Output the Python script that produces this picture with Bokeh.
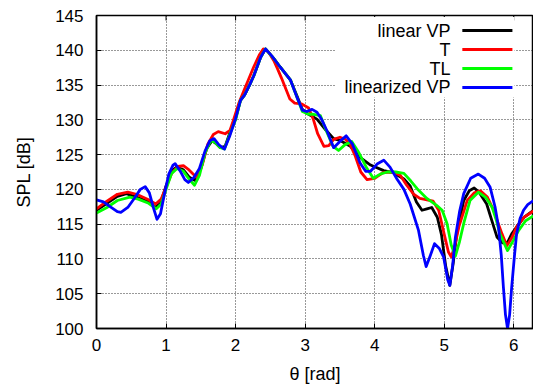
from bokeh.plotting import figure
from bokeh.models import Range1d, FixedTicker, Label
from bokeh.embed import file_html
from bokeh.resources import INLINE

# ---- data ----
theta_linear_vp = [0, 0.15, 0.3, 0.43, 0.6, 0.75, 0.84, 0.92, 1.0, 1.08, 1.15, 1.25, 1.33, 1.41, 1.5,
                   1.58, 1.66, 1.72, 1.78, 1.85, 1.93, 2.0, 2.07, 2.13, 2.2, 2.26, 2.36, 2.43, 2.55,
                   2.64, 2.79, 2.88, 2.96, 3.03, 3.17, 3.3, 3.41, 3.51, 3.65, 3.79, 3.94, 4.13, 4.27,
                   4.42, 4.51, 4.6, 4.68, 4.75, 4.82, 4.9, 4.96, 5.02, 5.08, 5.13, 5.18, 5.28, 5.36,
                   5.43, 5.5, 5.61, 5.7, 5.76, 5.84, 5.91, 5.97, 6.04, 6.15, 6.2832]
spl_linear_vp = [117.0, 118.0, 119.0, 119.4, 118.8, 118.2, 117.4, 118.0, 120.5, 122.6, 123.2, 122.8, 121.8,
                 121.3, 123.0, 125.8, 127.0, 126.6, 126.0, 126.2, 128.5, 130.2, 132.8, 133.6, 135.0,
                 136.3, 139.0, 140.2, 138.8, 137.6, 135.7, 133.5, 131.5, 130.9, 130.1, 128.5, 127.3,
                 127.0, 126.2, 124.6, 123.5, 122.7, 122.4, 121.5, 120.5, 118.2, 117.0, 117.2, 117.4,
                 116.0, 113.5, 109.0, 106.2, 109.5, 113.6, 118.4, 119.8, 120.2, 119.6, 117.9, 115.0,
                 113.1, 112.3, 112.4, 113.6, 114.6, 116.0, 117.0]

theta_t = [0, 0.15, 0.3, 0.45, 0.6, 0.75, 0.85, 0.93, 1.0, 1.08, 1.17, 1.25, 1.33, 1.44, 1.52, 1.6,
           1.68, 1.75, 1.85, 1.92, 1.97, 2.05, 2.12, 2.19, 2.26, 2.34, 2.40, 2.47, 2.55, 2.60, 2.66,
           2.72, 2.78, 2.85, 2.95, 3.05, 3.12, 3.18, 3.27, 3.34, 3.41, 3.5, 3.58, 3.65, 3.72, 3.8,
           3.89, 4.0, 4.12, 4.27, 4.37, 4.46, 4.56, 4.65, 4.75, 4.84, 4.92, 5.01, 5.06, 5.10, 5.15,
           5.21, 5.33, 5.43, 5.52, 5.62, 5.71, 5.78, 5.83, 5.9, 5.97, 6.04, 6.15, 6.2832]
spl_t = [117.2, 118.3, 119.3, 119.6, 119.2, 118.5, 117.9, 118.6, 120.3, 122.3, 123.3, 123.4, 122.8,
         121.7, 123.5, 126.5, 127.9, 128.3, 128.0, 128.5, 130.0, 132.5, 134.2, 135.9, 137.6, 139.3,
         140.2, 139.8, 138.5, 137.4, 136.0, 134.5, 133.0, 132.4, 132.3, 131.7, 130.0, 128.0, 126.2,
         126.3, 127.2, 127.5, 127.2, 126.4, 124.8, 122.5, 121.4, 121.6, 122.4, 122.5, 122.0, 120.6,
         119.3, 118.7, 118.5, 118.3, 117.0, 113.1, 111.0, 110.3, 111.8, 114.6, 118.4, 119.5, 119.8,
         118.9, 117.0, 115.0, 113.6, 111.9, 113.0, 114.6, 116.0, 116.9]

theta_tl = [0, 0.15, 0.3, 0.48, 0.6, 0.75, 0.86, 0.93, 1.0, 1.08, 1.16, 1.25, 1.33, 1.41, 1.48, 1.56,
            1.64, 1.7, 1.78, 1.84, 1.92, 2.0, 2.07, 2.13, 2.2, 2.26, 2.36, 2.43, 2.55, 2.64, 2.79,
            2.88, 2.96, 3.05, 3.12, 3.22, 3.3, 3.4, 3.48, 3.57, 3.67, 3.76, 3.89, 3.98, 4.08, 4.18,
            4.3, 4.42, 4.52, 4.61, 4.75, 4.89, 4.97, 5.04, 5.1, 5.16, 5.22, 5.28, 5.37, 5.49, 5.6,
            5.69, 5.75, 5.8, 5.91, 5.99, 6.07, 6.17, 6.2832]
spl_tl = [116.6, 117.4, 118.4, 118.9, 118.6, 118.0, 117.2, 117.9, 120.0, 122.3, 123.0, 122.6, 121.5,
          120.6, 122.0, 125.2, 127.0, 126.8, 126.0, 125.8, 128.0, 130.0, 132.8, 133.6, 135.0, 136.3,
          139.0, 140.2, 138.8, 137.6, 135.7, 133.3, 131.2, 130.8, 130.8, 130.6, 128.5, 126.2, 125.6,
          126.4, 126.9, 125.5, 123.0, 121.6, 122.2, 122.5, 122.5, 122.3, 121.2, 120.1, 118.7, 117.7,
          117.0, 115.1, 112.0, 110.4, 112.5, 115.1, 118.4, 119.6, 118.8, 117.4, 115.5, 113.6, 111.2,
          112.6, 114.1, 115.5, 116.2]

theta_linearized_vp = [0, 0.1, 0.2, 0.3, 0.35, 0.45, 0.55, 0.63, 0.7, 0.76, 0.82, 0.87, 0.92, 0.98,
                       1.04, 1.1, 1.13, 1.2, 1.27, 1.32, 1.4, 1.48, 1.56, 1.63, 1.69, 1.76, 1.84, 1.92,
                       2.0, 2.07, 2.13, 2.2, 2.26, 2.36, 2.43, 2.52, 2.64, 2.79, 2.88, 2.96, 3.02, 3.1,
                       3.17, 3.24, 3.31, 3.41, 3.5, 3.59, 3.68, 3.79, 3.87, 3.94, 4.04, 4.13, 4.22,
                       4.32, 4.42, 4.51, 4.63, 4.7, 4.74, 4.8, 4.86, 4.93, 4.99, 5.05, 5.08, 5.12,
                       5.16, 5.22, 5.28, 5.38, 5.49, 5.58, 5.66, 5.73, 5.78, 5.82, 5.85, 5.88, 5.91,
                       5.94, 5.97, 6.01, 6.04, 6.09, 6.14, 6.2, 6.2832]
spl_linearized_vp = [118.5, 118.2, 117.5, 116.8, 116.7, 117.4, 118.8, 120.0, 120.4, 119.5, 117.3,
                     115.7, 116.5, 119.5, 122.2, 123.5, 123.7, 122.7, 121.4, 121.0, 121.7, 123.0,
                     125.5, 127.0, 127.3, 126.4, 125.8, 127.8, 130.2, 132.8, 133.6, 135.0, 136.3,
                     139.0, 140.2, 139.2, 137.6, 135.7, 133.3, 131.4, 131.2, 131.5, 131.1, 130.0,
                     128.5, 126.0, 126.9, 127.7, 126.5, 123.8, 122.6, 122.6, 123.7, 124.2, 123.2,
                     121.5, 120.0, 117.9, 114.1, 110.5, 108.9, 110.5, 112.2, 111.5, 110.3, 107.0,
                     106.2, 109.0, 113.1, 116.8, 119.4, 121.6, 122.2, 121.6, 120.3, 117.5, 114.6,
                     110.5, 106.0, 102.0, 100.0, 102.0, 106.0, 110.5, 113.6, 115.8, 117.0, 117.8,
                     118.4]

series_labels = ["linear VP", "T", "TL", "linearized VP"]
series_colors = ["#000000", "#ff0000", "#00ff00", "#0000ff"]
x_ticks = [0, 1, 2, 3, 4, 5, 6]
y_ticks = [100, 105, 110, 115, 120, 125, 130, 135, 140, 145]

FONT = "Liberation Sans"

p = figure(width=533, height=390, x_range=Range1d(0, 6.2832), y_range=Range1d(100, 145),
           output_backend="svg", toolbar_location=None,
           min_border_left=96, min_border_right=0, min_border_top=15, min_border_bottom=62,
           x_axis_label="\u03b8 [rad]", y_axis_label="SPL [dB]")
p.background_fill_color = "white"
p.border_fill_color = "white"
p.outline_line_color = "black"
p.outline_line_width = 1.5

for ax in (p.xaxis[0], p.yaxis[0]):
    ax.major_tick_in = 5
    ax.major_tick_out = 0
    ax.minor_tick_line_color = None
    ax.major_tick_line_color = "black"
    ax.major_tick_line_width = 1
    ax.axis_line_color = "black"
    ax.axis_line_width = 1.5
    ax.major_label_text_font = FONT
    ax.major_label_text_font_size = "17px"
    ax.major_label_text_color = "black"
    ax.axis_label_text_font = FONT
    ax.axis_label_text_font_size = "18px"
    ax.axis_label_text_font_style = "normal"
    ax.axis_label_text_color = "black"

p.xaxis.ticker = FixedTicker(ticks=x_ticks)
p.yaxis.ticker = FixedTicker(ticks=y_ticks)
p.xaxis.major_label_standoff = 10
p.yaxis.major_label_standoff = 13
p.xaxis.axis_label_standoff = 10
p.yaxis.axis_label_standoff = 18

p.xgrid.ticker = FixedTicker(ticks=x_ticks[1:])
p.ygrid.ticker = FixedTicker(ticks=y_ticks[1:-1])
p.grid.grid_line_color = "black"
p.grid.grid_line_dash = "1 2"
p.grid.grid_line_alpha = 0.8
p.grid.grid_line_width = 1

# mirrored tick marks along the top border (inward)
y_top = y_ticks[-1]
p.segment(x0=x_ticks, y0=[y_top] * len(x_ticks), x1=x_ticks, y1=[y_top - 0.72] * len(x_ticks),
          line_color="black", line_width=1)

xs_all = [theta_linear_vp, theta_t, theta_tl, theta_linearized_vp]
ys_all = [spl_linear_vp, spl_t, spl_tl, spl_linearized_vp]
for xs, ys, c in zip(xs_all, ys_all, series_colors):
    p.line(xs, ys, line_color=c, line_width=2.8, line_join="round")

# legend (text right-aligned, sample line on the right), on white background
p.quad(left=[3.44], right=[6.01], top=[144.8], bottom=[133.2], fill_color="white", line_color=None)
row_y = [142.84, 140.11, 137.38, 134.65]
for lab, c, yy in zip(series_labels, series_colors, row_y):
    p.segment(x0=[5.26], y0=[yy], x1=[5.98], y1=[yy], line_color=c, line_width=3)
    p.add_layout(Label(x=5.09, y=yy, text=lab, text_align="right", text_baseline="middle",
                       text_font=FONT, text_font_size="18px", text_color="black"))

open("out.html", "w").write(file_html(p, INLINE))
